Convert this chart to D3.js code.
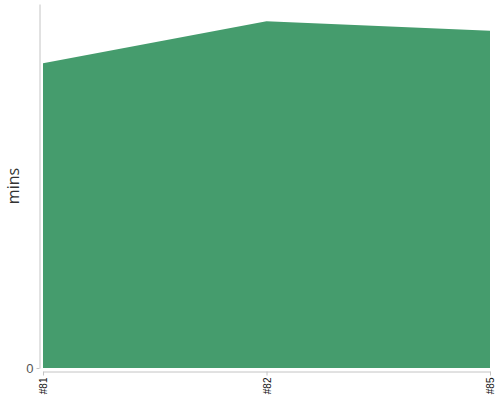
<!DOCTYPE html>
<html>
<head>
<meta charset="utf-8">
<script src="https://cdn.jsdelivr.net/npm/d3@7"></script>
<style>
  body { margin: 0; background: #fff; }
  svg { display: block; font-family: "Open Sans", sans-serif; }
</style>
</head>
<body>
<div id="chart"></div>
<script>
const width = 500;
const height = 400;

// data
const categories = ["#81", "#82", "#85"];
const minsValues = [29, 33, 32.1];
const yTicks = [0];

const xScale = d3.scalePoint().domain(categories).range([43, 490]);
const yScale = d3.scaleLinear()
    .domain([0, d3.max(minsValues) * 1.05])
    .range([368, 4]);

const svg = d3.select('#chart')
    .append('svg')
    .attr('width', width)
    .attr('height', height);

const area = d3.area()
    .x((d, i) => xScale(categories[i]))
    .y0(yScale(0))
    .y1((d) => yScale(d));

svg.append('path')
    .datum(minsValues)
    .attr('fill', '#459c6d')
    .attr('d', area);

// y axis
const yAxis = d3.axisLeft(yScale).tickValues(yTicks).tickSize(3).tickSizeOuter(0);
const yG = svg.append('g')
    .attr('transform', 'translate(39.5,0)')
    .call(yAxis);
yG.select('.domain').attr('stroke', '#c4c4c4');
yG.selectAll('.tick line').attr('stroke', '#c4c4c4');
yG.selectAll('.tick text')
    .attr('fill', '#555')
    .style('font-size', '13px')
    .attr('x', -6);

// x axis
const xAxis = d3.axisBottom(xScale).tickSize(4).tickSizeOuter(0);
const xG = svg.append('g')
    .attr('transform', 'translate(0,371.5)')
    .call(xAxis);
xG.select('.domain').attr('stroke', '#c4c4c4');
xG.selectAll('.tick line').attr('stroke', '#c4c4c4');
xG.selectAll('.tick text')
    .attr('fill', '#111')
    .style('font-size', '10px')
    .attr('text-anchor', 'end')
    .attr('transform', 'rotate(-90)')
    .attr('x', -6)
    .attr('y', 0)
    .attr('dy', '0.35em');

// y label
svg.append('text')
    .attr('transform', 'translate(13,186) rotate(-90)')
    .attr('text-anchor', 'middle')
    .attr('dy', '0.35em')
    .attr('fill', '#333')
    .style('font-size', '16px')
    .text('mins');
</script>
</body>
</html>
